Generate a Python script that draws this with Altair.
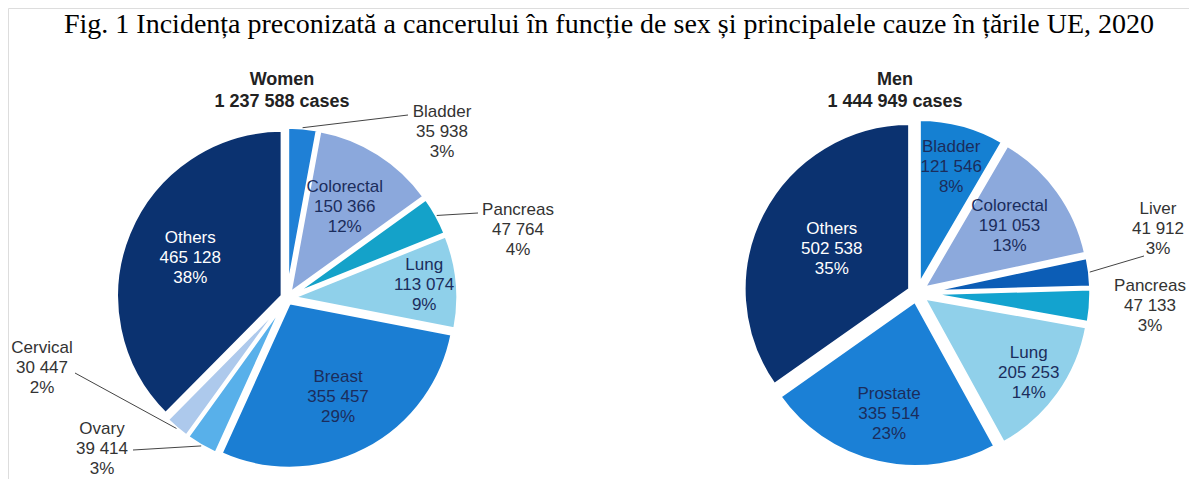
import altair as alt
import pandas as pd

# ---------------- data ----------------
title_text = "Fig. 1 Incidența preconizată a cancerului în funcție de sex și principalele cauze în țările UE, 2020"

sexes = ["Women", "Men"]
totals_label = ["1 237 588 cases", "1 444 949 cases"]

women_causes = ["Bladder", "Colorectal", "Pancreas", "Lung", "Breast", "Ovary", "Cervical", "Others"]
women_values = [35938, 150366, 47764, 113074, 355457, 39414, 30447, 465128]

men_causes = ["Bladder", "Colorectal", "Liver", "Pancreas", "Lung", "Prostate", "Others"]
men_values = [121546, 191053, 41912, 47133, 205253, 335514, 502538]

# ---------------- layout / style ----------------
W, H = 1181, 471
R = 166
CENTER = {"Women": (279, 290), "Men": (909, 285)}
EXPLODE = {"Women": 5, "Men": 8}
STROKE = 3.5
FONT = "Liberation Sans"
FS = 17
LH = 20
TEXT_DARK = "#1b2d5c"
TEXT_OUT = "#333333"

COLORS = {
    ("Women", "Bladder"): "#1f80d6",
    ("Women", "Colorectal"): "#8ba8dc",
    ("Women", "Pancreas"): "#14a2c9",
    ("Women", "Lung"): "#8fd0ea",
    ("Women", "Breast"): "#1b7ed3",
    ("Women", "Ovary"): "#58b0ea",
    ("Women", "Cervical"): "#adc9ec",
    ("Women", "Others"): "#0b3270",
    ("Men", "Bladder"): "#1580d2",
    ("Men", "Colorectal"): "#8ca9dc",
    ("Men", "Liver"): "#0c5db6",
    ("Men", "Pancreas"): "#13a3cf",
    ("Men", "Lung"): "#90d0ea",
    ("Men", "Prostate"): "#1b80d6",
    ("Men", "Others"): "#0b3270",
}
# radial fraction for inside labels
INSIDE_R = {
    ("Women", "Colorectal"): 0.62, ("Women", "Lung"): 0.80, ("Women", "Breast"): 0.64,
    ("Women", "Others"): 0.60,
    ("Men", "Bladder"): 0.74, ("Men", "Colorectal"): 0.64, ("Men", "Lung"): 0.78,
    ("Men", "Prostate"): 0.70, ("Men", "Others"): 0.53,
}
# outside labels: label centre, leader end (plot coords)
OUTSIDE = {
    ("Women", "Bladder"): ((434, 124), (400, 107)),
    ("Women", "Pancreas"): ((510, 222), (470, 205)),
    ("Women", "Cervical"): ((34, 360), (67, 365)),
    ("Women", "Ovary"): ((94, 441), (125, 442)),
    ("Men", "Liver"): ((1150, 221), (1136, 248)),
    ("Men", "Pancreas"): ((1142, 298), None),
}
TITLE_X = {"Women": 274, "Men": 887}
TITLE_Y = (77, 99)

# ---------------- table ----------------
rows = []
for sex, causes, values in [("Women", women_causes, women_values), ("Men", men_causes, men_values)]:
    tot = sum(values)
    for i, (c, v) in enumerate(zip(causes, values)):
        key = (sex, c)
        out = OUTSIDE.get(key)
        rows.append({
            "sex": sex, "cause": c, "value": v, "idx": i,
            "key": sex + "-" + c,
            "label": c + "\n" + f"{v:,}".replace(",", " ") + "\n" + f"{round(v / tot * 100)}%",
            "cx": CENTER[sex][0], "cy": CENTER[sex][1], "d": EXPLODE[sex],
            "inside": out is None,
            "lr": INSIDE_R.get(key, 0.65),
            "ox": out[0][0] if out else None, "oy": out[0][1] if out else None,
            "ex": out[1][0] if (out and out[1]) else None,
            "ey": out[1][1] if (out and out[1]) else None,
        })
df = pd.DataFrame(rows)

keys = [s + "-" + c for (s, c) in COLORS]
cols = list(COLORS.values())

base = (
    alt.Chart(df)
    .transform_joinaggregate(total="sum(value)", groupby=["sex"])
    .transform_window(cum="sum(value)", sort=[alt.SortField("idx")], groupby=["sex"], frame=[None, 0])
    .transform_calculate(f1="datum.cum / datum.total")
    .transform_calculate(f0="(datum.cum - datum.value) / datum.total")
    .transform_calculate(mid="PI * (datum.f0 + datum.f1)")
    .transform_calculate(px="datum.cx + datum.d * sin(datum.mid)")
    .transform_calculate(py="datum.cy - datum.d * cos(datum.mid)")
)

arcs = base.mark_arc(outerRadius=R, stroke="white", strokeWidth=STROKE).encode(
    theta=alt.Theta("f0:Q", scale=alt.Scale(domain=[0, 1], range=[0, 6.283185307179586]), stack=None),
    theta2="f1:Q",
    x=alt.X("px:Q", scale=None, axis=None),
    y=alt.Y("py:Q", scale=None, axis=None),
    color=alt.Color("key:N", scale=alt.Scale(domain=keys, range=cols), legend=None),
)

inside_txt = (
    base.transform_filter("datum.inside")
    .transform_calculate(lx="datum.px + datum.lr * %d * sin(datum.mid)" % R)
    .transform_calculate(ly="datum.py - datum.lr * %d * cos(datum.mid)" % R)
    .mark_text(font=FONT, fontSize=FS, lineBreak="\n", lineHeight=LH, align="center",
               baseline="middle", dy=-LH)
    .encode(
        x=alt.X("lx:Q", scale=None),
        y=alt.Y("ly:Q", scale=None),
        text="label:N",
        color=alt.condition("datum.cause === 'Others'", alt.value("white"), alt.value(TEXT_DARK)),
    )
)

outside_txt = (
    base.transform_filter("!datum.inside")
    .mark_text(font=FONT, fontSize=FS, lineBreak="\n", lineHeight=LH, align="center",
               baseline="middle", dy=-LH, color=TEXT_OUT)
    .encode(x=alt.X("ox:Q", scale=None), y=alt.Y("oy:Q", scale=None), text="label:N")
)

leaders = (
    base.transform_filter("isValid(datum.ex)")
    .transform_calculate(sx="datum.px + %d * sin(datum.mid)" % R)
    .transform_calculate(sy="datum.py - %d * cos(datum.mid)" % R)
    .mark_rule(color="#444444", strokeWidth=1)
    .encode(
        x=alt.X("sx:Q", scale=None), y=alt.Y("sy:Q", scale=None),
        x2="ex:Q", y2="ey:Q",
    )
)

tdf = pd.DataFrame({
    "sex": sexes, "cases": totals_label,
    "tx": [TITLE_X[s] for s in sexes],
})
pie_title1 = alt.Chart(tdf).mark_text(font=FONT, fontSize=18, fontWeight="bold", color="#222222",
                                      baseline="alphabetic").encode(
    x=alt.X("tx:Q", scale=None), y=alt.value(TITLE_Y[0]), text="sex:N")
pie_title2 = alt.Chart(tdf).mark_text(font=FONT, fontSize=18, fontWeight="bold", color="#222222",
                                      baseline="alphabetic").encode(
    x=alt.X("tx:Q", scale=None), y=alt.value(TITLE_Y[1]), text="cases:N")

main_title = alt.Chart(pd.DataFrame({"t": [title_text]})).mark_text(
    font="Liberation Serif", fontSize=28, color="#000000", baseline="alphabetic").encode(
    x=alt.value(601), y=alt.value(25), text="t:N")

chart = (
    alt.layer(arcs, leaders, inside_txt, outside_txt, pie_title1, pie_title2, main_title)
    .properties(width=W, height=H, padding=0, autosize=alt.AutoSizeParams(type="none"))
    .configure_view(stroke=None)
    .configure(background="white")
)

chart.save("out.html", embed_options={"renderer": "svg", "actions": False})
